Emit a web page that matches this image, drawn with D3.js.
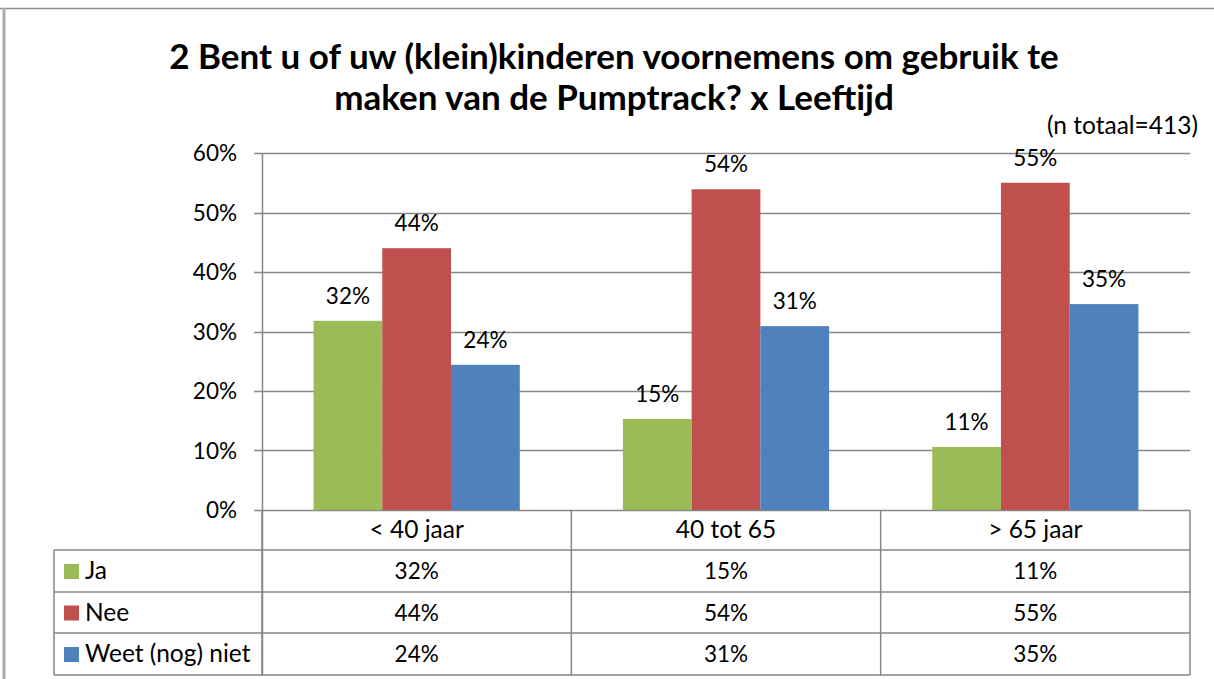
<!DOCTYPE html>
<html>
<head>
<meta charset="utf-8">
<script src="https://cdn.jsdelivr.net/npm/d3@7"></script>
<style>
  body { margin: 0; background: #fff; }
  text { font-family: Lato, "Open Sans", sans-serif; fill: #000; }
</style>
</head>
<body>
<svg id="chart"></svg>
<script>
// data
const categories = ["< 40 jaar", "40 tot 65", "> 65 jaar"];
const seriesNames = ["Ja", "Nee", "Weet (nog) niet"];
const ja = [0.318, 0.153, 0.106];
const nee = [0.440, 0.539, 0.550];
const weet = [0.244, 0.309, 0.346];
const yTicks = [0, 0.1, 0.2, 0.3, 0.4, 0.5, 0.6];
const titleLines = ["2 Bent u of uw (klein)kinderen voornemens om gebruik te", "maken van de Pumptrack? x Leeftijd"];
const subtitle = "(n totaal=413)";

const colors = ["#9BBB59", "#C0504D", "#4F81BD"];
const series = [ja, nee, weet];

const width = 1214, height = 679;
const plot = { left: 262, right: 1190, top: 153, bottom: 510 };
const rowH = [510, 550, 592, 633, 675];
const tableLeft = 54;
const gridColor = "#868686";
const numSize = 22.5, wordSize = 24.5;
const fmt = d3.format(".0%");

const svg = d3.select("#chart").attr("width", width).attr("height", height);

// outer frame
svg.append("line").attr("x1", 0).attr("x2", width).attr("y1", 8.5).attr("y2", 8.5)
  .attr("stroke", "#8c8c8c").attr("stroke-width", 1.5);
svg.append("line").attr("x1", 4).attr("x2", 4).attr("y1", 8).attr("y2", height)
  .attr("stroke", "#b0aca4").attr("stroke-width", 3);

// title
svg.append("text")
  .attr("x", 614).attr("y", 69)
  .attr("text-anchor", "middle")
  .attr("font-size", 35).attr("font-weight", "bold")
  .selectAll("tspan").data(titleLines).enter().append("tspan")
  .attr("x", 614).attr("dy", (d, i) => i === 0 ? 0 : 41)
  .text(d => d);

svg.append("text")
  .attr("x", 1198).attr("y", 134)
  .attr("text-anchor", "end").attr("font-size", wordSize)
  .text(subtitle);

const x = d3.scaleBand().domain(categories).range([plot.left, plot.right]);
// Excel style: gap width 150% of one bar, split over both sides
const gap = x.bandwidth() * 0.75 / 4.5;
const xs = d3.scaleBand().domain(seriesNames).range([gap, x.bandwidth() - gap]);
const y = d3.scaleLinear().domain([0, 0.6]).range([plot.bottom, plot.top]);

// gridlines
svg.append("g").selectAll("line").data(yTicks).enter().append("line")
  .attr("x1", plot.left - 8).attr("x2", plot.right)
  .attr("y1", d => Math.round(y(d)) + 0.5).attr("y2", d => Math.round(y(d)) + 0.5)
  .attr("stroke", gridColor).attr("stroke-width", 1.5);

// y axis labels
svg.append("g").selectAll("text").data(yTicks).enter().append("text")
  .attr("x", 237).attr("y", d => y(d) + 8)
  .attr("text-anchor", "end").attr("font-size", numSize)
  .text(d => fmt(d));

// bars
const groups = svg.append("g").selectAll("g").data(categories).enter().append("g")
  .attr("transform", d => `translate(${x(d)},0)`);

groups.selectAll("rect")
  .data((c, i) => seriesNames.map((s, j) => ({ s, j, v: series[j][i] })))
  .enter().append("rect")
  .attr("x", d => xs(d.s))
  .attr("y", d => y(d.v))
  .attr("width", xs.bandwidth())
  .attr("height", d => plot.bottom - y(d.v))
  .attr("fill", d => colors[d.j]);

groups.selectAll("text.lbl")
  .data((c, i) => seriesNames.map((s, j) => ({ s, j, v: series[j][i] })))
  .enter().append("text").attr("class", "lbl")
  .attr("x", d => xs(d.s) + xs.bandwidth() / 2)
  .attr("y", d => y(d.v) - 17)
  .attr("text-anchor", "middle").attr("font-size", numSize)
  .text(d => fmt(d.v));

// axis line
svg.append("line").attr("x1", plot.left + 0.5).attr("x2", plot.left + 0.5)
  .attr("y1", plot.top).attr("y2", rowH[4])
  .attr("stroke", gridColor).attr("stroke-width", 1.5);

// data table
const tbl = svg.append("g");
const colEdges = [plot.left].concat(categories.map(c => x(c) + x.bandwidth()));
rowH.slice(1).forEach(r => {
  tbl.append("line").attr("x1", tableLeft).attr("x2", plot.right)
    .attr("y1", r).attr("y2", r).attr("stroke", gridColor).attr("stroke-width", 1.5);
});
colEdges.forEach(cx => {
  tbl.append("line").attr("x1", cx).attr("x2", cx)
    .attr("y1", plot.bottom).attr("y2", rowH[4])
    .attr("stroke", gridColor).attr("stroke-width", 1.5);
});
tbl.append("line").attr("x1", tableLeft).attr("x2", tableLeft)
  .attr("y1", rowH[1]).attr("y2", rowH[4])
  .attr("stroke", gridColor).attr("stroke-width", 1.5);

// category header
tbl.selectAll("text.cat").data(categories).enter().append("text").attr("class", "cat")
  .attr("x", d => x(d) + x.bandwidth() / 2).attr("y", (rowH[0] + rowH[1]) / 2 + 8)
  .attr("text-anchor", "middle").attr("font-size", wordSize)
  .text(d => d);

// rows
seriesNames.forEach((s, j) => {
  const cy = (rowH[j + 1] + rowH[j + 2]) / 2;
  tbl.append("rect").attr("x", 64).attr("y", cy - 7).attr("width", 15).attr("height", 15)
    .attr("fill", colors[j]);
  tbl.append("text").attr("x", 85).attr("y", cy + 8).attr("font-size", wordSize).text(s);
  categories.forEach((c, i) => {
    tbl.append("text").attr("x", x(c) + x.bandwidth() / 2).attr("y", cy + 8)
      .attr("text-anchor", "middle").attr("font-size", numSize)
      .text(fmt(series[j][i]));
  });
});
</script>
</body>
</html>
